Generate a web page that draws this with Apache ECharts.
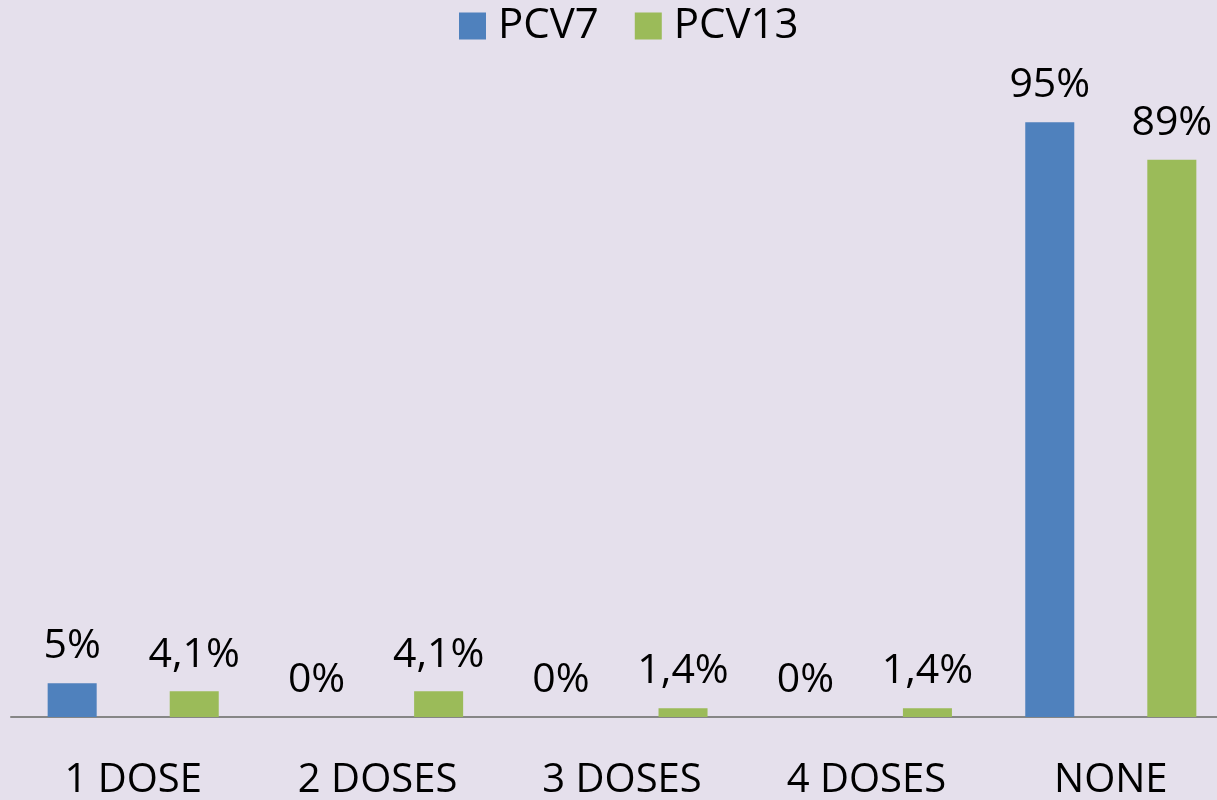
<!DOCTYPE html>
<html>
<head>
<meta charset="utf-8">
<script src="https://cdn.jsdelivr.net/npm/echarts@6/dist/echarts.min.js"></script>
<style>
  html, body { margin: 0; padding: 0; background: #E5E0EC; }
  #chart { width: 1217px; height: 800px; }
</style>
</head>
<body>
<div id="chart"></div>
<script>
const categories = ['1 DOSE', '2 DOSES', '3 DOSES', '4 DOSES', 'NONE']
const pcv7 = [5.4, 0, 0, 0, 95]
const pcv13 = [4.1, 4.1, 1.4, 1.4, 89]
const pcv7Labels = ['5%', '0%', '0%', '0%', '95%']
const pcv13Labels = ['4,1%', '4,1%', '1,4%', '1,4%', '89%']

const chart = echarts.init(document.getElementById('chart'))
const font = 'Open Sans'

chart.setOption({
  backgroundColor: '#E5E0EC',
  legend: {
    top: 0,
    left: 454,
    itemWidth: 27,
    itemHeight: 27,
    itemGap: 36,
    icon: 'rect',
    textStyle: { fontFamily: font, fontSize: 42, color: '#000', padding: [0, 0, 0, 7] },
    data: ['PCV7', 'PCV13']
  },
  grid: { left: 11, width: 1222, top: 91, bottom: 83, outerBoundsMode: 'none' },
  xAxis: {
    type: 'category',
    data: categories,
    axisLine: { lineStyle: { color: '#868686', width: 2 } },
    axisTick: { show: false },
    axisLabel: { fontFamily: font, fontSize: 40, color: '#000', margin: 44, interval: 0 }
  },
  yAxis: {
    type: 'value',
    min: 0,
    max: 100,
    show: false,
    splitLine: { show: false }
  },
  series: [
    {
      name: 'PCV7',
      type: 'bar',
      data: pcv7,
      itemStyle: { color: '#4F81BD' },
      barGap: '149%',
      barCategoryGap: '30%',
      label: {
        show: true,
        position: 'top',
        distance: 16,
        fontFamily: font,
        fontSize: 41,
        color: '#000',
        formatter: p => pcv7Labels[p.dataIndex]
      }
    },
    {
      name: 'PCV13',
      type: 'bar',
      data: pcv13,
      itemStyle: { color: '#9BBB59' },
      label: {
        show: true,
        position: 'top',
        distance: 16,
        fontFamily: font,
        fontSize: 41,
        color: '#000',
        formatter: p => pcv13Labels[p.dataIndex]
      }
    }
  ]
})
</script>
</body>
</html>
